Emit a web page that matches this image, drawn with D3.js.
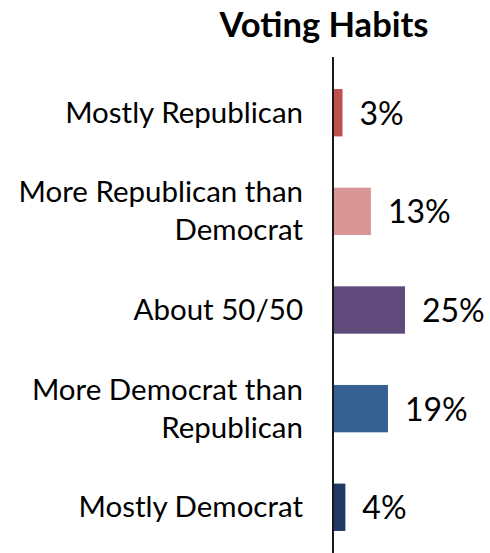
<!DOCTYPE html>
<html>
<head>
<meta charset="utf-8">
<script src="https://cdn.jsdelivr.net/npm/d3@7"></script>
<style>
  html, body { margin: 0; padding: 0; background: #fff; }
  svg { display: block; }
  text { font-family: Lato, "Open Sans", sans-serif; fill: #000; }
</style>
</head>
<body>
<svg id="chart" width="490" height="553"></svg>
<script>
const title = "Voting Habits";
const categories = [
  ["Mostly Republican"],
  ["More Republican than", "Democrat"],
  ["About 50/50"],
  ["More Democrat than", "Republican"],
  ["Mostly Democrat"]
];
const values = [3, 13, 25, 19, 4];
const valueLabels = ["3%", "13%", "25%", "19%", "4%"];
const colors = ["#C0504D", "#D99694", "#604A7B", "#376092", "#1F3864"];

const svg = d3.select("#chart");
const keys = categories.map(c => c.join(" "));

const x = d3.scaleLinear().domain([0, 25]).range([334, 405]);
const y = d3.scaleBand().domain(keys).range([57, 563])
  .paddingInner(0.52).paddingOuter(0.325);

// title
svg.append("text")
  .attr("x", 324).attr("y", 37)
  .attr("text-anchor", "middle")
  .style("font-size", "34.5px").style("font-weight", "bold")
  .text(title);

// bars
svg.selectAll("rect.bar").data(values).enter().append("rect")
  .attr("class", "bar")
  .attr("x", x(0))
  .attr("y", (d, i) => y(keys[i]))
  .attr("width", d => x(d) - x(0))
  .attr("height", y.bandwidth())
  .attr("fill", (d, i) => colors[i]);

// axis line
svg.append("line")
  .attr("x1", x(0) - 1).attr("x2", x(0) - 1)
  .attr("y1", y.range()[0]).attr("y2", y.range()[1])
  .attr("stroke", "#1a1a1a").attr("stroke-width", 2);

// category labels
const lineGap = 38;
categories.forEach((lines, i) => {
  const cy = y(keys[i]) + y.bandwidth() / 2;
  const t = svg.append("text")
    .attr("text-anchor", "end")
    .style("font-size", "29.5px");
  const n = lines.length;
  lines.forEach((ln, j) => {
    t.append("tspan")
      .attr("x", 303)
      .attr("y", cy + 10 + (j - (n - 1) / 2) * lineGap)
      .text(ln);
  });
});

// value labels
svg.selectAll("text.val").data(values).enter().append("text")
  .attr("class", "val")
  .attr("x", d => x(d) + 17)
  .attr("y", (d, i) => y(keys[i]) + y.bandwidth() / 2 + 12)
  .style("font-size", "32px")
  .text((d, i) => valueLabels[i]);
</script>
</body>
</html>
